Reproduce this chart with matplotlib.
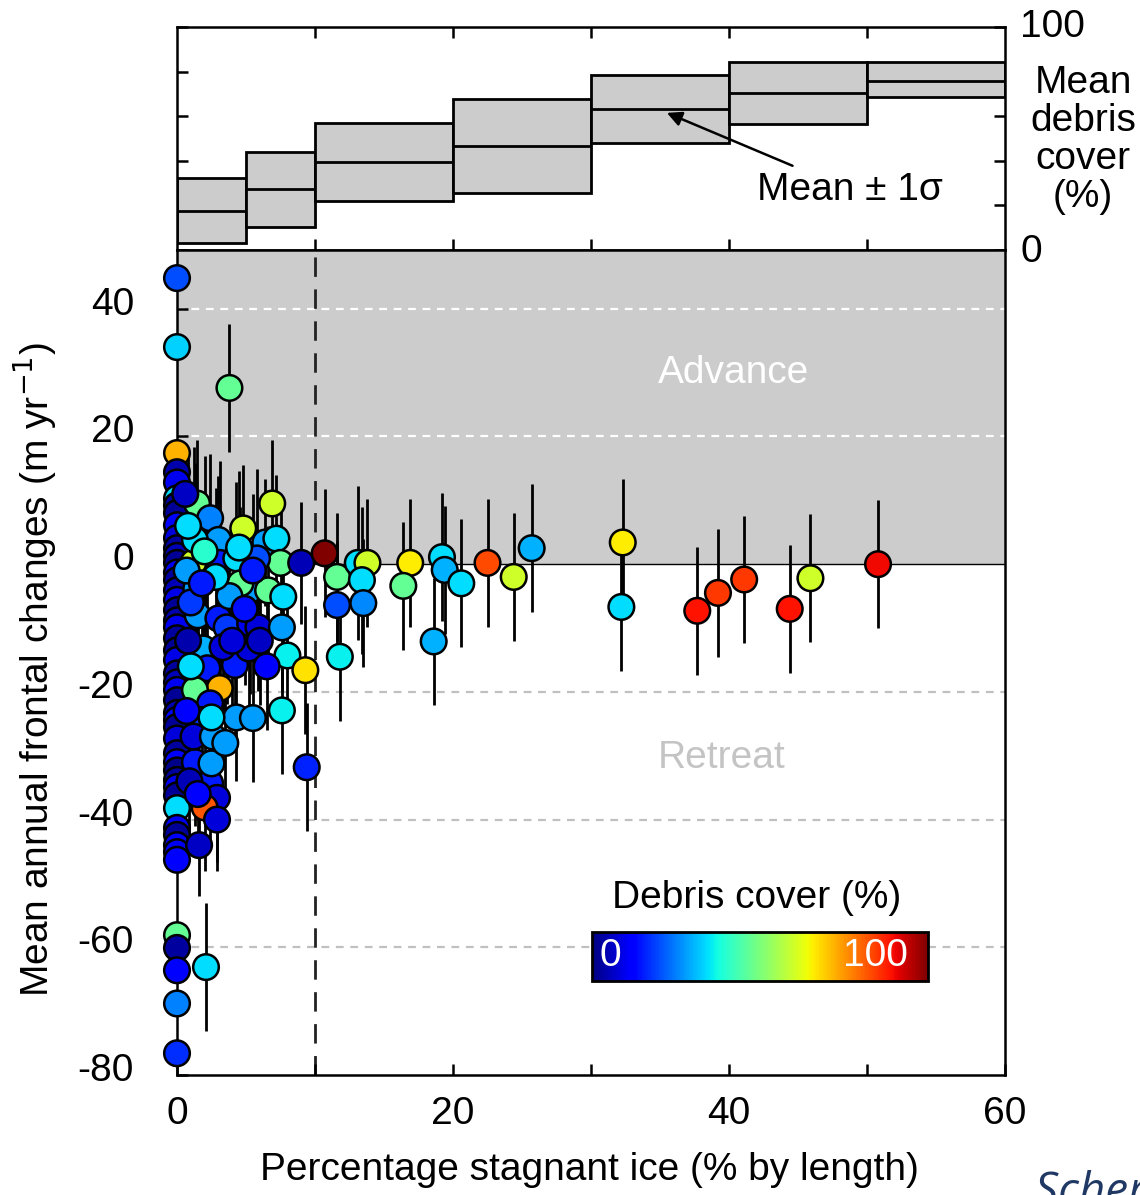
import numpy as np
import matplotlib
matplotlib.use('Agg')
import matplotlib.pyplot as plt
from matplotlib.transforms import ScaledTranslation
from matplotlib import colors, cm

plt.rcParams['font.family'] = ['Liberation Sans', 'DejaVu Sans']
plt.rcParams['axes.unicode_minus'] = False
plt.rcParams['mathtext.fontset'] = 'custom'
plt.rcParams['mathtext.rm'] = 'Liberation Sans'
plt.rcParams['mathtext.default'] = 'rm'

# ---------------- data ----------------
# Top panel: mean debris cover (+/- 1 sigma) per stagnant-ice bin
bin_edges = [0, 5, 10, 20, 30, 40, 50, 60]
bin_mean = [17.5, 27.3, 39.4, 46.7, 63.3, 70.6, 75.6]
bin_low = [3.0, 10.5, 22.0, 25.7, 47.8, 56.6, 68.8]
bin_high = [32.2, 43.9, 56.9, 67.8, 78.3, 84.4, 84.4]

# Glaciers with 0 % stagnant ice
zero_frontal = [44.8, 34.0, 17.4, 14.4, 12.8, 10.3, 9.2, 8.0, 6.1, 4.1, 2.5, 1.3,
                0.2, -1.3, -2.5, -4.1, -5.6, -7.2, -8.8, -9.9, -11.6, -13.5, -15.0,
                -17.1, -18.5, -19.7, -21.3, -23.3, -24.4, -25.5, -27.3, -29.6, -31.0,
                -32.3, -33.8, -34.9, -36.2, -38.2, -41.3, -42.4, -44.0, -45.1, -46.3,
                -58.1, -60.1, -63.6, -68.8, -76.6]
zero_debris = [20, 33, 72, 4, 10, 34, 3, 2, 11, 8, 3, 5,
               2, 10, 3, 5, 9, 2, 4, 10, 3, 2, 9,
               3, 5, 10, 2, 4, 11, 2, 8, 3, 11,
               1, 3, 10, 2, 34, 10, 2, 12, 10, 12,
               47, 3, 11, 25, 17]

# Glaciers with stagnant ice
stagnant = [3.8, 1.45, 2.4, 4.8, 6.9, 3.0, 6.4, 7.2, 3.1, 4.3, 7.5, 5.8, 1.2, 9.0,
            5.1, 6.6, 7.7, 4.6, 1.5, 3.0, 3.6, 5.3, 5.9, 7.6, 1.9, 2.2, 4.2, 5.2,
            8.0, 9.3, 3.1, 1.3, 2.4, 4.3, 5.5, 7.6, 1.8, 1.3, 2.4, 2.9, 2.0, 2.5,
            9.4, 2.1, 1.4, 1.3,
            0.6, 0.8, 0.7, 1.0, 0.8, 1.0, 0.7, 1.2, 0.9, 1.5, 2.6, 3.3, 3.8, 4.0,
            4.5, 5.5, 6.0, 6.5, 2.8, 2.0, 1.8, 4.9, 2.5, 3.5, 2.9, 1.6,
            10.7, 11.6, 13.1, 13.8, 13.4, 11.6, 13.5, 11.8, 16.9, 16.4, 19.2, 19.4,
            20.6, 18.6, 22.5, 24.4, 25.7, 32.3, 32.2, 37.7, 39.2, 41.1, 44.4, 45.9,
            50.8]
frontal = [27.6, 9.5, 7.2, 5.6, 9.5, 3.8, 3.4, 4.0, 0.2, 0.9, 0.2, 0.9, 0.3, 0.2,
           -4.4, -4.1, -5.1, -3.0, -8.0, -8.5, -9.9, -9.3, -9.9, -9.9, -13.2, -16.3,
           -15.8, -13.2, -14.3, -16.6, -19.4, -19.7, -21.8, -24.0, -24.1, -22.9,
           -24.4, -31.0, -34.3, -36.6, -38.1, -31.2, -31.8, -63.1, -3.8, 3.8,
           11.0, 6.0, -1.0, -6.0, -12.0, -16.0, -23.0, -27.0, -34.0, -36.0, -27.0,
           -13.0, -5.0, -12.0, 2.6, -1.0, -12.0, -16.0, -2.0, 2.0, -3.0, -7.0,
           -24.0, -28.0, -40.0, -44.0,
           1.7, -2.0, 0.2, 0.2, -2.5, -6.4, -6.1, -14.5, 0.2, -3.4, 1.1, -0.9,
           -3.0, -12.1, 0.2, -2.0, 2.5, 3.4, -6.7, -7.3, -4.5, -2.4, -7.0, -2.2,
           0.0]
frontal_err = [10, 10, 10, 10, 10, 10, 10, 10, 16, 12, 10, 14, 18, 9.5,
               11, 10, 9, 12, 13, 12, 12, 11, 10, 10, 12, 12,
               12, 11, 10, 10, 10, 10, 10, 10, 10, 10,
               10, 10, 10, 10, 10, 10, 10, 10, 12, 12,
               8, 12, 12, 10, 10, 10, 10, 10, 10, 10, 10,
               10, 10, 10, 12, 12, 10, 10, 14, 15, 12, 12,
               10, 10, 8, 8,
               10, 10, 12, 10, 11.5, 10, 10, 10, 10, 10, 10, 10,
               10, 10, 10, 10, 10, 10, 10, 10, 10, 10, 10, 10,
               10]
debris = [47, 47, 25, 60, 60, 28, 28, 34, 15, 34, 47, 20, 60, 5,
          28, 47, 34, 47, 28, 15, 18, 10, 8, 28, 30, 15,
          15, 8, 36, 67, 72, 47, 15, 28, 28, 36,
          18, 15, 15, 8, 82, 28, 16, 34, 28, 34,
          6, 34, 28, 18, 4, 34, 12, 8, 5, 12, 28,
          8, 28, 8, 34, 15, 6, 12, 34, 40, 15, 14,
          34, 28, 8, 6,
          100, 47, 34, 60, 34, 20, 26, 36, 66, 47, 34, 30,
          34, 30, 83, 60, 30, 66, 34, 89, 85, 85, 89, 60,
          90]

# ---------------- figure ----------------
W, H = 1140, 1195
fig = plt.figure(figsize=(W / 100, H / 100), dpi=100)


def fx(px):
    return px / W


def fy(py):
    return 1 - py / H


ax_left, ax_right = 177, 1005
ax_top_top, ax_mid, ax_bottom = 27, 250, 1075
ax_top = fig.add_axes([fx(ax_left), fy(ax_mid), fx(ax_right) - fx(ax_left), fy(ax_top_top) - fy(ax_mid)])
ax = fig.add_axes([fx(ax_left), fy(ax_bottom), fx(ax_right) - fx(ax_left), fy(ax_mid) - fy(ax_bottom)])

FS = 28
spine_lw = 1.8

# ---- top panel ----
lefts = np.array(bin_edges[:-1], dtype=float)
widths = np.diff(bin_edges)
low = np.array(bin_low)
high = np.array(bin_high)
ax_top.bar(lefts, high - low, bottom=low, width=widths, align='edge',
           color='#cccccc', edgecolor='black', linewidth=2.0, zorder=2)
ax_top.hlines(bin_mean, lefts, lefts + widths, colors='black', linewidth=2.0, zorder=3)
ax_top.set_xlim(0, 60)
ax_top.set_ylim(0, 100)
ax_top.set_xticks([10, 20, 30, 40, 50])
ax_top.set_yticks([0, 20, 40, 60, 80, 100])
ax_top.tick_params(direction='in', length=8, width=1.8, top=True, bottom=True,
                   left=True, right=True, labelbottom=False, labelleft=False)
for s in ax_top.spines.values():
    s.set_linewidth(spine_lw)
ax_top.annotate('Mean ± 1σ', xy=(35.5, 61.5), xytext=(42.0, 27.0),
                fontsize=FS, ha='left', va='center',
                arrowprops=dict(arrowstyle='-|>', color='black', lw=1.8,
                                mutation_scale=22, shrinkA=6, shrinkB=0))

fig.text(fx(1020), fy(27), '100', fontsize=FS, ha='left', va='center')
fig.text(fx(1020), fy(252), '0', fontsize=FS, ha='left', va='center')
fig.text(fx(1083), fy(140), 'Mean\ndebris\ncover\n(%)', fontsize=FS, ha='center',
         va='center', linespacing=1.08)

# ---- main panel ----
ymax = 49.2
ax.axhspan(0, ymax, color='#cccccc', zorder=0, lw=0)
ax.axhline(0, color='black', lw=1.0, zorder=1)
for yv in [40, 20]:
    ax.axhline(yv, color='white', lw=1.6, ls=(0, (3.5, 3)), zorder=1)
for yv in [-20, -40, -60]:
    ax.axhline(yv, color='#c0c0c0', lw=1.6, ls=(0, (3.5, 3)), zorder=1)
ax.axvline(10, color='#222222', lw=2.0, ls=(0, (7, 4.5)), zorder=1)

x_all = np.concatenate([np.zeros(len(zero_frontal)), np.array(stagnant)])
y_all = np.concatenate([np.array(zero_frontal), np.array(frontal)])
e_all = np.concatenate([np.full(len(zero_frontal), 0.0), np.array(frontal_err)])
c_all = np.concatenate([np.array(zero_debris), np.array(debris)])

ax.vlines(x_all, y_all - e_all, y_all + e_all, colors='black', lw=2.0, zorder=2)
ax.scatter(x_all, y_all, c=c_all, cmap='jet', vmin=0, vmax=100, s=340,
           edgecolors='black', linewidths=1.8, zorder=3, clip_on=False)

ax.set_xlim(0, 60)
ax.set_ylim(-80, ymax)
ax.set_xticks([0, 10, 20, 30, 40, 50, 60])
ax.set_xticklabels(['0', '', '20', '', '40', '', '60'])
ax.set_yticks([-80, -60, -40, -20, 0, 20, 40])
ax.set_yticklabels(['-80', '-60', '-40', '-20', '0', '20', '40'])
ax.tick_params(axis='both', direction='in', length=8, width=1.8, labelsize=FS)
ax.tick_params(axis='x', pad=15)
ax.tick_params(axis='y', pad=31)
offset = ScaledTranslation(0, 8 / 100, fig.dpi_scale_trans)
for lab in ax.get_yticklabels():
    lab.set_transform(lab.get_transform() + offset)
for s in ax.spines.values():
    s.set_linewidth(spine_lw)

ax.text(40.3, 29.9, 'Advance', color='white', fontsize=FS, ha='center', va='center')
ax.text(39.5, -30.4, 'Retreat', color='#c4c4c4', fontsize=FS, ha='center', va='center')

fig.text(fx(35), fy(670), 'Mean annual frontal changes (m yr$^{\\mathsf{-1}}$)', rotation=90,
         fontsize=FS, ha='center', va='center')
fig.text(fx(589), fy(1170), 'Percentage stagnant ice (% by length)', fontsize=FS,
         ha='center', va='center')

# ---- colorbar ----
cax = fig.add_axes([fx(592), fy(981), fx(928) - fx(592), fy(932) - fy(981)])
sm = cm.ScalarMappable(norm=colors.Normalize(0, 100), cmap='jet')
cb = fig.colorbar(sm, cax=cax, orientation='horizontal')
cb.set_ticks([])
cb.outline.set_linewidth(2.0)
cax.text(0.055, 0.5, '0', color='white', fontsize=FS, ha='center', va='center',
         transform=cax.transAxes)
cax.text(0.845, 0.5, '100', color='white', fontsize=FS, ha='center', va='center',
         transform=cax.transAxes)
fig.text(fx(757), fy(898), 'Debris cover (%)', fontsize=FS, ha='center', va='center')

fig.text(fx(1035), fy(1205), 'Scherler et al. (2011)', fontsize=33, style='italic',
         color='#1f3864', ha='left', va='baseline',
         family=['Open Sans', 'DejaVu Sans'])

fig.savefig('out.png', dpi=100)
